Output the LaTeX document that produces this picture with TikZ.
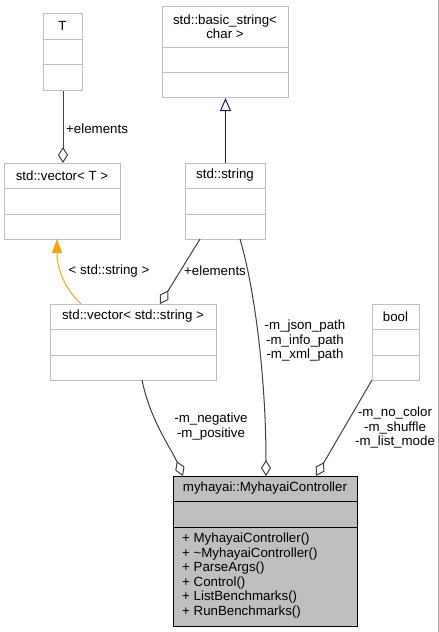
\documentclass[tikz,border=0pt]{standalone}
\usepackage{fontspec}
\setmainfont{Liberation Sans}
\usetikzlibrary{arrows.meta}
\definecolor{boxgray}{HTML}{BFBFBF}
\definecolor{edgegray}{HTML}{404040}
\definecolor{navyblue}{HTML}{191970}
\definecolor{orangeedge}{HTML}{FFA500}
\definecolor{ctrlfill}{HTML}{BFBFBF}
\tikzset{
  umlbox/.style={draw=boxgray, line width=1pt, fill=white, inner sep=0pt, anchor=north west},
  ctrlbox/.style={draw=black, line width=1pt, fill=ctrlfill, inner sep=0pt, anchor=north west},
  rowline/.style={draw=boxgray, line width=1pt},
  ctrlrow/.style={draw=black, line width=1pt},
  txt/.style={inner sep=0pt, font=\fontsize{13.3}{14.5}\selectfont},
  lbl/.style={inner sep=0pt, font=\fontsize{13.3}{14.5}\selectfont, align=center},
  agg/.style={draw=edgegray, line width=1pt, -{Diamond[open,length=16pt,width=10pt]}},
  inh/.style={draw=navyblue, line width=1pt, -{Triangle[open,length=13pt,width=11pt]}},
  tmpl/.style={draw=orangeedge, line width=1pt, -{Triangle[length=14pt,width=10pt]}},
}
\begin{document}
\begin{tikzpicture}[x=1pt,y=-1pt]
\useasboundingbox[fill=white] (0,0) rectangle (439,632);
\draw[gray!70, line width=1pt] (438.5,0) -- (438.5,632);
% T
\node[umlbox, minimum width=39pt, minimum height=77pt] (T) at (43,13) {};
\draw[rowline] (43,39) -- (82,39) (43,64) -- (82,64);
\node[txt] (Tt) at (62.5,26) {T};
% basic_string
\node[umlbox, minimum width=126pt, minimum height=91pt] (basic) at (162,6) {};
\draw[rowline] (162,47) -- (288,47) (162,72) -- (288,72);
\node[lbl, font=\fontsize{13.3}{14}\selectfont] (basict) at (225,26.5) {std::basic\_string<\\char >};
% vector<T>
\node[umlbox, minimum width=116pt, minimum height=76pt] (vecT) at (4,163) {};
\draw[rowline] (4,188) -- (120,188) (4,214) -- (120,214);
\node[txt] (vecTt) at (62,175.5) {std::vector< T >};
% std::string
\node[umlbox, minimum width=80pt, minimum height=76pt] (str) at (185,163) {};
\draw[rowline] (185,188) -- (265,188) (185,214) -- (265,214);
\node[txt] (strt) at (225,175.5) {std::string};
% vector<string>
\node[umlbox, minimum width=166pt, minimum height=76pt] (vecS) at (50,304) {};
\draw[rowline] (50,329) -- (216,329) (50,355) -- (216,355);
\node[txt] (vecSt) at (133,316.5) {std::vector< std::string >};
% bool
\node[umlbox, minimum width=47pt, minimum height=76pt] (bool) at (372,304) {};
\draw[rowline] (372,329) -- (419,329) (372,355) -- (419,355);
\node[txt] (boolt) at (395.5,316.5) {bool};
% controller
\node[ctrlbox, minimum width=184pt, minimum height=150pt] (ctrl) at (173,476) {};
\draw[ctrlrow] (173,501) -- (357,501) (173,527) -- (357,527);
\node[txt] (ctrlt) at (265,488.5) {myhayai::MyhayaiController};
\node[txt, align=left, anchor=west] (ctrlm) at (182,575.5) {+ MyhayaiController()\\+ \textasciitilde MyhayaiController()\\+ ParseArgs()\\+ Control()\\+ ListBenchmarks()\\+ RunBenchmarks()};
% edges
\draw[agg] (T.south) -- (T.south |- vecT.north);
\node[txt, anchor=west] (l1) at (66,129) {+elements};
\draw[inh] (str.north) -- (str.north |- basic.south);
\coordinate (o1) at (81,304);
\coordinate (o2) at (57,239);
\draw[tmpl] (o1) .. controls (66,290) and (57,270) .. (o2);
\node[txt] (l2) at (109,271) {< std::string >};
\coordinate (e1) at (200,239);
\coordinate (e2) at (160,304);
\draw[agg] (e1) -- (e2);
\node[txt] (l3) at (215,271) {+elements};
\coordinate (j1) at (240,239);
\coordinate (j2) at (266,476);
\draw[agg] (j1) .. controls (255,290) and (266,380) .. (j2);
\node[lbl] (l4) at (305,341) {-m\_json\_path\\-m\_info\_path\\-m\_xml\_path};
\coordinate (n1) at (142,380);
\coordinate (n2) at (183,476);
\draw[agg] (n1) .. controls (150,420) and (172,450) .. (n2);
\node[lbl] (l5) at (211,426.5) {-m\_negative\\-m\_positive};
\coordinate (b1) at (372,380);
\coordinate (b2) at (316,476);
\draw[agg] (b1) -- (b2);
\node[lbl] (l6) at (395,427.5) {-m\_no\_color\\-m\_shuffle\\-m\_list\_mode};
\end{tikzpicture}
\end{document}
